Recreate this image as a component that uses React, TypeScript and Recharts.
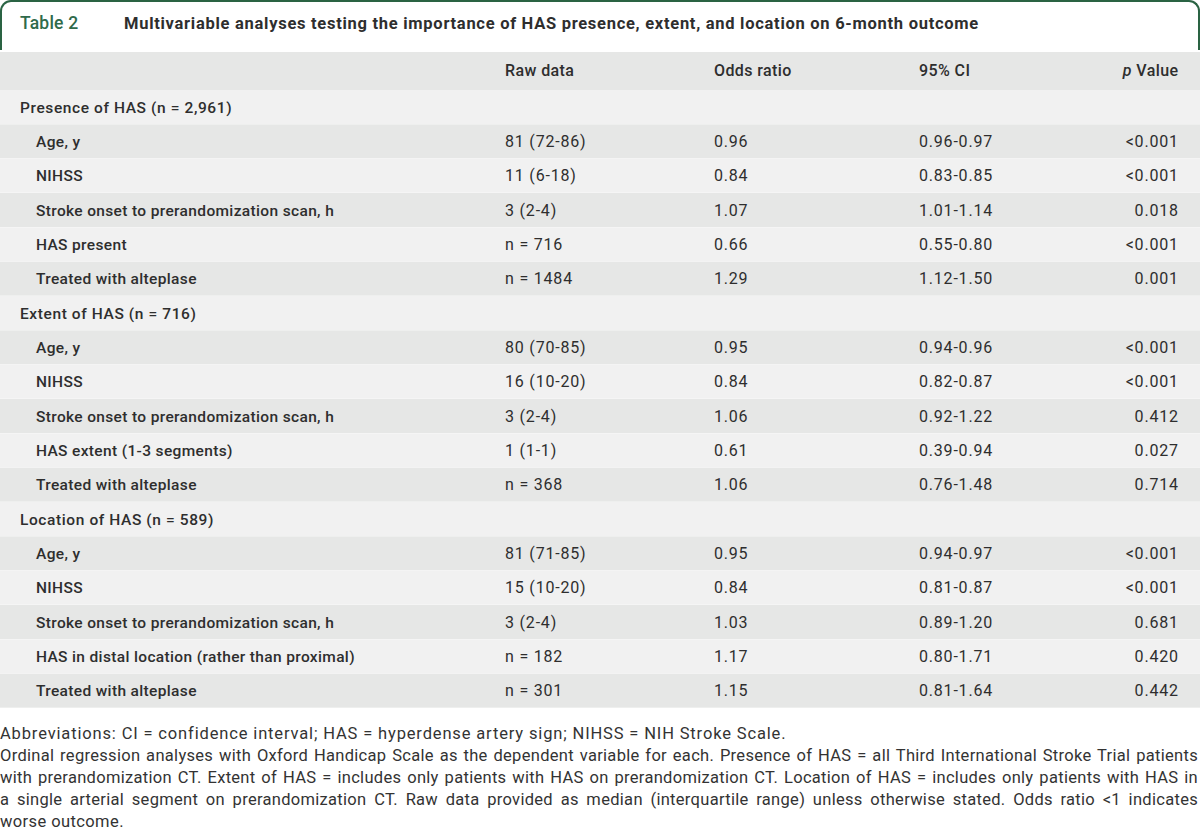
import React from 'react';
import { BarChart, Bar, XAxis, YAxis } from 'recharts';

const sections = [
  'Presence of HAS (n = 2,961)',
  'Extent of HAS (n = 716)',
  'Location of HAS (n = 589)',
];

const variables = [
  ['Age, y', 'NIHSS', 'Stroke onset to prerandomization scan, h', 'HAS present', 'Treated with alteplase'],
  ['Age, y', 'NIHSS', 'Stroke onset to prerandomization scan, h', 'HAS extent (1-3 segments)', 'Treated with alteplase'],
  ['Age, y', 'NIHSS', 'Stroke onset to prerandomization scan, h', 'HAS in distal location (rather than proximal)', 'Treated with alteplase'],
];

const rawData = [
  ['81 (72-86)', '11 (6-18)', '3 (2-4)', 'n = 716', 'n = 1484'],
  ['80 (70-85)', '16 (10-20)', '3 (2-4)', '1 (1-1)', 'n = 368'],
  ['81 (71-85)', '15 (10-20)', '3 (2-4)', 'n = 182', 'n = 301'],
];

const oddsRatios = [
  [0.96, 0.84, 1.07, 0.66, 1.29],
  [0.95, 0.84, 1.06, 0.61, 1.06],
  [0.95, 0.84, 1.03, 1.17, 1.15],
];

const ciLow = [
  [0.96, 0.83, 1.01, 0.55, 1.12],
  [0.94, 0.82, 0.92, 0.39, 0.76],
  [0.94, 0.81, 0.89, 0.8, 0.81],
];

const ciHigh = [
  [0.97, 0.85, 1.14, 0.8, 1.5],
  [0.96, 0.87, 1.22, 0.94, 1.48],
  [0.97, 0.87, 1.2, 1.71, 1.64],
];

const pValues = [
  ['<0.001', '<0.001', '0.018', '<0.001', '0.001'],
  ['<0.001', '<0.001', '0.412', '0.027', '0.714'],
  ['<0.001', '<0.001', '0.681', '0.420', '0.442'],
];

const headers = ['Raw data', 'Odds ratio', '95% CI', 'p Value'];

const footLines = [
  'Abbreviations: CI = confidence interval; HAS = hyperdense artery sign; NIHSS = NIH Stroke Scale.',
  'Ordinal regression analyses with Oxford Handicap Scale as the dependent variable for each. Presence of HAS = all Third International Stroke Trial patients',
  'with prerandomization CT. Extent of HAS = includes only patients with HAS on prerandomization CT. Location of HAS = includes only patients with HAS in',
  'a single arterial segment on prerandomization CT. Raw data provided as median (interquartile range) unless otherwise stated. Odds ratio <1 indicates',
  'worse outcome.',
];

type Row = {
  label: string;
  section: boolean;
  raw: string;
  or: string;
  ci: string;
  p: string;
  span: number;
};

const rows: Row[] = [];
sections.forEach((s, si) => {
  rows.push({ label: s, section: true, raw: '', or: '', ci: '', p: '', span: 1 });
  variables[si].forEach((v, vi) => {
    rows.push({
      label: v,
      section: false,
      raw: rawData[si][vi],
      or: oddsRatios[si][vi].toFixed(2),
      ci: `${ciLow[si][vi].toFixed(2)}-${ciHigh[si][vi].toFixed(2)}`,
      p: pValues[si][vi],
      span: 1,
    });
  });
});

const GREEN = '#2a6343';
const DARK = '#e6e7e6';
const LIGHT = '#f1f1f1';
const TEXT = '#2e2e2e';
const FONT = 'Roboto, "Noto Sans", sans-serif';
const COL_X = [505, 714, 919, 1178];

function RowShape(props: any) {
  const { y, height, index, payload } = props;
  const ty = y + height / 2 + 5.5;
  const cell = { fontSize: 16, fill: TEXT, fontFamily: FONT, letterSpacing: 0.8 };
  return (
    <g>
      <rect x={0} y={y} width={1200} height={height} fill={index % 2 === 0 ? LIGHT : DARK} />
      <text
        x={payload.section ? 20 : 36}
        y={ty}
        fontSize={15.5}
        fontWeight={500}
        fill={TEXT}
        fontFamily={FONT}
        letterSpacing={payload.section ? 0.6 : 0.35}
      >
        {payload.label}
      </text>
      <text x={COL_X[0]} y={ty} {...cell}>
        {payload.raw}
      </text>
      <text x={COL_X[1]} y={ty} {...cell}>
        {payload.or}
      </text>
      <text x={COL_X[2]} y={ty} {...cell}>
        {payload.ci}
      </text>
      <text x={COL_X[3] + 0.8} y={ty} {...cell} textAnchor="end">
        {payload.p}
      </text>
    </g>
  );
}

const footSpacing = [0.85, 0.3, 0.3, 0.3, 0.4];

export default function App() {
  return (
    <div
      style={{
        position: 'absolute',
        left: 0,
        top: 0,
        width: 1200,
        height: 833,
        background: '#fff',
        fontFamily: FONT,
        color: TEXT,
      }}
    >
      <div
        style={{
          position: 'absolute',
          left: 0,
          top: 0,
          width: 1200,
          height: 50,
          boxSizing: 'border-box',
          border: `2px solid ${GREEN}`,
          borderBottom: 'none',
          borderRadius: '11px 11px 0 0',
        }}
      >
        <span
          style={{
            position: 'absolute',
            left: 18,
            top: 11,
            fontSize: 17.5,
            fontWeight: 500,
            letterSpacing: 0.2,
            color: '#2f6a4b',
            whiteSpace: 'nowrap',
          }}
        >
          Table 2
        </span>
        <span
          style={{
            position: 'absolute',
            left: 122,
            top: 12,
            fontSize: 16.5,
            fontWeight: 700,
            letterSpacing: 0.72,
            color: TEXT,
            whiteSpace: 'nowrap',
          }}
        >
          Multivariable analyses testing the importance of HAS presence, extent, and location on 6-month outcome
        </span>
      </div>
      <div
        style={{
          position: 'absolute',
          left: 0,
          top: 52,
          width: 1200,
          height: 38,
          background: DARK,
          fontSize: 16,
          fontWeight: 500,
          letterSpacing: 0.4,
          whiteSpace: 'nowrap',
        }}
      >
        <span style={{ position: 'absolute', left: COL_X[0], top: 9 }}>{headers[0]}</span>
        <span style={{ position: 'absolute', left: COL_X[1], top: 9 }}>{headers[1]}</span>
        <span style={{ position: 'absolute', left: COL_X[2], top: 9 }}>{headers[2]}</span>
        <span style={{ position: 'absolute', right: 1200 - COL_X[3] - 0.4, top: 9 }}>
          <i>{headers[3].split(' ')[0]}</i> {headers[3].split(' ')[1]}
        </span>
      </div>
      <div style={{ position: 'absolute', left: 0, top: 90 }}>
        <BarChart
          width={1200}
          height={618}
          data={rows}
          layout="vertical"
          margin={{ top: 0, right: 0, bottom: 0, left: 0 }}
          barCategoryGap={0}
        >
          <XAxis type="number" domain={[0, 1]} hide />
          <YAxis type="category" dataKey="label" hide />
          <Bar dataKey="span" shape={(p: any) => <RowShape {...p} />} isAnimationActive={false} />
        </BarChart>
      </div>
      <div
        style={{
          position: 'absolute',
          left: 0,
          top: 723,
          width: 1198,
          fontSize: 16.5,
          lineHeight: '22px',
          color: '#333',
        }}
      >
        {footLines.map((l, i) => (
          <div
            key={i}
            style={{
              whiteSpace: 'nowrap',
              letterSpacing: footSpacing[i],
              textAlign: 'justify',
              textAlignLast: i >= 1 && i <= 3 ? 'justify' : 'left',
            }}
          >
            {l}
          </div>
        ))}
      </div>
    </div>
  );
}
